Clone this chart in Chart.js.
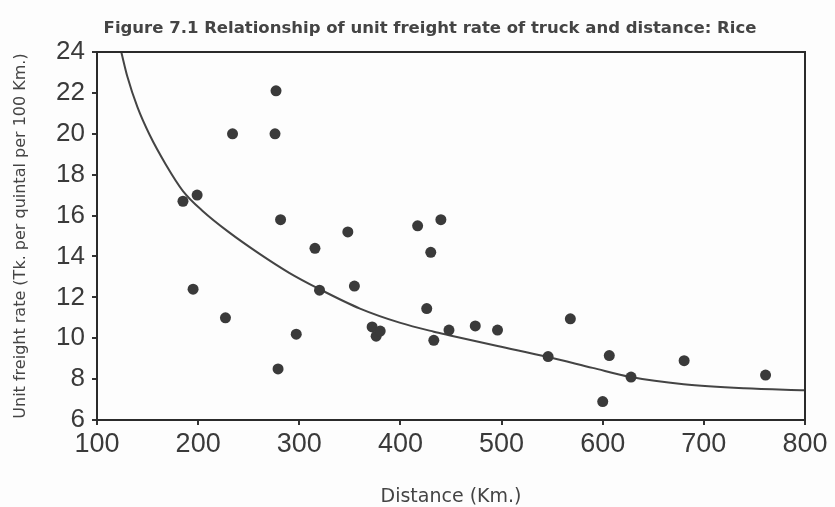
<!DOCTYPE html>
<html>
<head>
<meta charset="utf-8">
<script src="https://cdn.jsdelivr.net/npm/chart.js@4.4.1/dist/chart.umd.min.js"></script>
<style>
  html, body { margin: 0; padding: 0; background: #fdfdfd; }
  #wrap { width: 835px; height: 507px; }
</style>
</head>
<body>
<div id="wrap"><canvas id="scatter-chart"></canvas></div>
<script>
// observed points: distance (km) and unit freight rate
const distance = [185, 199, 195, 227, 234, 276, 277, 279, 281.5, 297, 315.5, 320, 348, 354.5, 372, 376, 380,
    417, 426, 430, 433, 440, 448, 474, 496, 546, 568, 600, 606.5, 628, 680.5, 761];
const rate = [16.7, 17.0, 12.4, 11.0, 20.0, 20.0, 22.1, 8.5, 15.8, 10.2, 14.4, 12.35, 15.2, 12.55, 10.55, 10.1, 10.35,
    15.5, 11.45, 14.2, 9.9, 15.8, 10.4, 10.6, 10.4, 9.1, 10.95, 6.9, 9.15, 8.1, 8.9, 8.2];

// fitted curve
const fitX = [124, 130, 140, 152, 168, 185, 205, 230, 260, 290, 320, 360, 400, 433, 448, 496, 546, 590, 628, 680, 740, 800];
const fitY = [24, 22.8, 21.3, 19.95, 18.5, 17.2, 16.2, 15.2, 14.15, 13.2, 12.4, 11.45, 10.75, 10.32, 10.15, 9.62, 9.08, 8.55, 8.1, 7.75, 7.55, 7.45];

const xTicks = [100, 200, 300, 400, 500, 600, 700, 800];
const yTicks = [6, 8, 10, 12, 14, 16, 18, 20, 22, 24];

const ink = "#3a3a3a";
const fontFamily = "'Liberation Sans', Arial, sans-serif";
const wideFamily = "'DejaVu Sans', Verdana, sans-serif";

// draws the frame round the plot area
const boxPlugin = {
    id: "plotBox",
    afterDatasetsDraw(chart) {
        const a = chart.chartArea;
        const ctx = chart.ctx;
        ctx.save();
        ctx.strokeStyle = "#2b2b2b";
        ctx.lineWidth = 2;
        ctx.strokeRect(a.left, a.top, a.right - a.left, a.bottom - a.top);
        ctx.restore();
    }
};

document.addEventListener("DOMContentLoaded", function () {
    const points = distance.map((d, i) => ({ x: d, y: rate[i] }));
    const curve = fitX.map((d, i) => ({ x: d, y: fitY[i] }));

    new Chart(document.getElementById("scatter-chart"), {
        type: "scatter",
        data: {
            datasets: [
                {
                    label: "Rice",
                    data: points,
                    backgroundColor: ink,
                    borderColor: ink,
                    pointRadius: 5.5,
                    pointBorderWidth: 0
                },
                {
                    type: "line",
                    label: "Fitted",
                    data: curve,
                    borderColor: "#444",
                    borderWidth: 2,
                    pointRadius: 0,
                    fill: false,
                    cubicInterpolationMode: "monotone"
                }
            ]
        },
        options: {
            responsive: true,
            maintainAspectRatio: false,
            animation: false,
            layout: { padding: { left: 25, right: 0, top: 0, bottom: 0 } },
            plugins: {
                legend: { display: false },
                tooltip: { enabled: false },
                title: {
                    display: true,
                    text: "Figure 7.1 Relationship of unit freight rate of truck and distance: Rice",
                    color: "#444",
                    font: { family: wideFamily, size: 16.5, weight: "bold" },
                    padding: { top: 19, bottom: 13.2 }
                }
            },
            scales: {
                x: {
                    type: "linear",
                    min: 100,
                    max: 800,
                    afterBuildTicks: (scale) => { scale.ticks = xTicks.map(v => ({ value: v })); },
                    afterFit: (scale) => { scale.height = 87; scale.paddingRight = 30; },
                    grid: { display: true, drawOnChartArea: false, tickLength: 5, color: "#333", lineWidth: 2 },
                    border: { display: false },
                    ticks: {
                        color: ink,
                        padding: 3,
                        maxRotation: 0,
                        font: { family: fontFamily, size: 27 }
                    },
                    title: {
                        display: true,
                        text: "Distance (Km.)",
                        color: "#444",
                        font: { family: wideFamily, size: 19 },
                        padding: { top: 0, bottom: -1 }
                    }
                },
                y: {
                    type: "linear",
                    min: 6,
                    max: 24,
                    afterBuildTicks: (scale) => { scale.ticks = yTicks.map(v => ({ value: v })); },
                    afterFit: (scale) => { scale.width = 72; },
                    grid: { display: true, drawOnChartArea: false, tickLength: 5, color: "#333", lineWidth: 2 },
                    border: { display: false },
                    ticks: {
                        color: ink,
                        padding: 7,
                        font: { family: fontFamily, size: 26 }
                    },
                    title: {
                        display: true,
                        text: "Unit freight rate (Tk. per quintal per 100 Km.)",
                        color: "#444",
                        font: { family: wideFamily, size: 16 },
                        padding: { top: -14, bottom: 0 }
                    }
                }
            }
        },
        plugins: [boxPlugin]
    });
});
</script>
</body>
</html>
